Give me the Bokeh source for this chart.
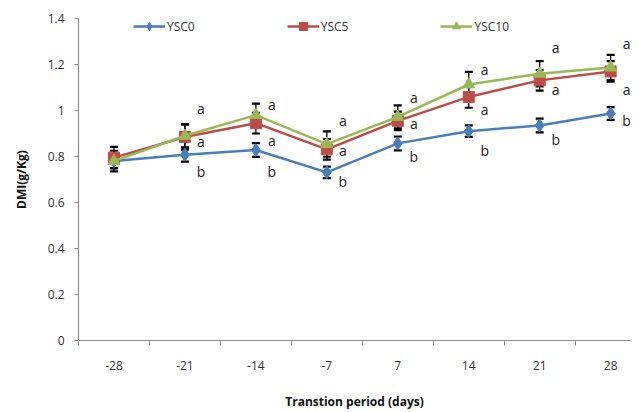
from bokeh.plotting import figure
from bokeh.models import (ColumnDataSource, Whisker, TeeHead, FixedTicker, Legend, LegendItem,
                          NumeralTickFormatter, Range1d)
from bokeh.core.properties import value
from bokeh.embed import file_html
from bokeh.resources import INLINE

days = ["-28", "-21", "-14", "-7", "7", "14", "21", "28"]
ysc0 = [0.780, 0.808, 0.828, 0.731, 0.857, 0.910, 0.935, 0.987]
ysc5 = [0.795, 0.885, 0.945, 0.831, 0.955, 1.059, 1.131, 1.170]
ysc10 = [0.780, 0.890, 0.980, 0.854, 0.972, 1.113, 1.160, 1.187]
err0 = [0.030, 0.030, 0.030, 0.025, 0.030, 0.025, 0.030, 0.028]
err5 = [0.047, 0.055, 0.045, 0.045, 0.040, 0.047, 0.045, 0.045]
err10 = [0.045, 0.050, 0.050, 0.055, 0.050, 0.055, 0.055, 0.055]
# significance letters (none at day -28) and their label heights
letters_top = ["", "a", "a", "a", "a", "a", "a", "a"]
letters_mid = ["", "a", "a", "a", "a", "a", "a", "a"]
letters_low = ["", "b", "b", "b", "b", "b", "b", "b"]
top_y = [0.0, 1.010, 1.025, 0.958, 1.056, 1.178, 1.276, 1.290]
mid_y = [0.0, 0.864, 0.868, 0.828, 0.944, 1.004, 1.092, 1.092]
low_y = [0.0, 0.734, 0.734, 0.690, 0.800, 0.825, 0.874, 0.958]
y_ticks = [0, 0.2, 0.4, 0.6, 0.8, 1.0, 1.2, 1.4]

FONT = "Open Sans"
xs = list(range(len(days)))

p = figure(width=639, height=412, output_backend="svg", toolbar_location=None,
           x_range=Range1d(-0.5, 7.28), y_range=Range1d(0, 1.4),
           min_border_left=78, min_border_right=9, min_border_top=18, min_border_bottom=71)
p.outline_line_color = None
p.xgrid.visible = False
p.ygrid.visible = False

series = [
    ("YSC0", ysc0, err0, "#4A7EBB", "diamond", 13),
    ("YSC5", ysc5, err5, "#BE4B48", "square", 11),
    ("YSC10", ysc10, err10, "#98B954", "triangle", 12),
]
items = []
for name, vals, errs, col, marker, size in series:
    src = ColumnDataSource(dict(x=xs, y=vals))
    ln = p.line("x", "y", source=src, line_color=col, line_width=2.5)
    sc = p.scatter("x", "y", source=src, marker=marker, size=size, fill_color=col,
                   line_color=col)
    items.append(LegendItem(label=name, renderers=[ln, sc]))
for name, vals, errs, col, marker, size in series:
    src = ColumnDataSource(dict(x=xs,
                                upper=[v + e for v, e in zip(vals, errs)],
                                lower=[v - e for v, e in zip(vals, errs)]))
    w = Whisker(base="x", upper="upper", lower="lower", source=src, line_color="black",
                line_width=1.3,
                upper_head=TeeHead(size=8, line_color="black", line_width=2.2),
                lower_head=TeeHead(size=8, line_color="black", line_width=2.2))
    p.add_layout(w)

for labels, ys in [(letters_top, top_y), (letters_mid, mid_y), (letters_low, low_y)]:
    src = ColumnDataSource(dict(x=xs, y=ys, t=labels))
    p.text("x", "y", text="t", source=src, x_offset=16, text_align="center",
           text_baseline="middle", text_font=value(FONT), text_font_size="14px",
           text_color="#222222")

legend = Legend(items=items, orientation="horizontal", location=(55, 304),
                border_line_color=None, background_fill_alpha=0, padding=0, margin=0,
                spacing=92, glyph_width=32, label_standoff=2,
                label_text_font=FONT, label_text_font_size="12px", label_text_color="#333333")
p.add_layout(legend, "center")

# axes
p.xaxis.ticker = FixedTicker(ticks=xs, minor_ticks=[i + 0.5 for i in range(-1, 8)])
p.xaxis.major_label_overrides = {i: d for i, d in enumerate(days)}
p.xaxis.minor_tick_in = 0
p.xaxis.minor_tick_out = 5
p.xaxis.minor_tick_line_color = "#8C8C8C"
p.xaxis.major_label_standoff = 14
p.xaxis.axis_label = "Transtion period (days)"
p.xaxis.axis_label_standoff = 20

p.yaxis.ticker = FixedTicker(ticks=y_ticks)
p.yaxis.formatter = NumeralTickFormatter(format="0.[0]")
p.yaxis.minor_tick_line_color = None
p.yaxis.major_tick_in = 0
p.yaxis.major_tick_out = 4
p.yaxis.major_label_standoff = 10
p.yaxis.axis_label = "DMI(g/Kg)"
p.yaxis.axis_label_standoff = 15

for ax in (p.xaxis, p.yaxis):
    ax.axis_line_color = "#8C8C8C"
    ax.axis_line_width = 1.2
    ax.major_label_text_font = FONT
    ax.major_label_text_font_size = "12px"
    ax.major_label_text_color = "#333333"
    ax.axis_label_text_font = FONT
    ax.axis_label_text_font_size = "12px"
    ax.axis_label_text_font_style = "bold"
    ax.axis_label_text_color = "#111111"
p.yaxis.major_tick_line_color = "#8C8C8C"
p.xaxis.major_tick_line_color = None

open("out.html", "w").write(file_html(p, INLINE))
